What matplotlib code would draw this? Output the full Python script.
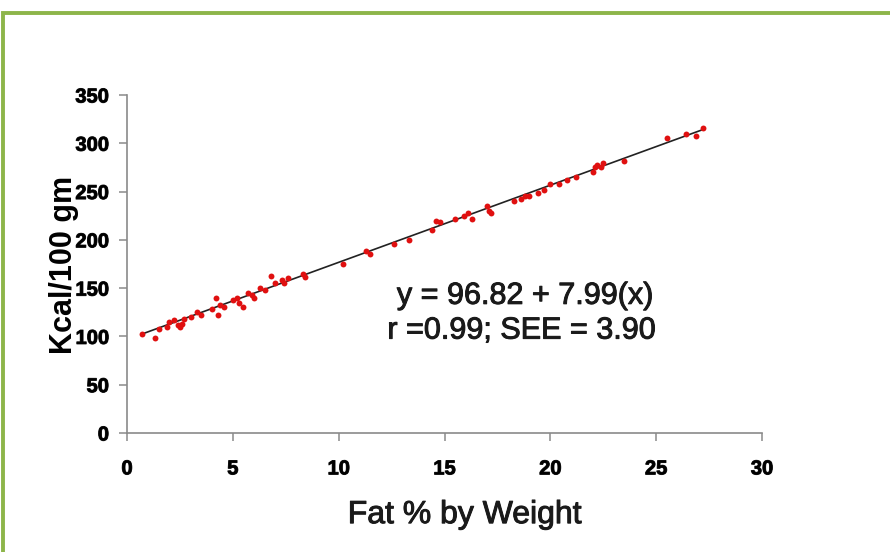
import numpy as np
import matplotlib.pyplot as plt
import matplotlib.patheffects as pe
from matplotlib.patches import Rectangle

# Fat % by weight vs Kcal/100 gm
fat_pct = [0.7, 1.3, 1.5, 1.9, 2.0, 2.2, 2.4, 2.5, 2.6, 2.7, 3.0, 3.3, 3.5,
           4.0, 4.2, 4.3, 4.4, 4.6, 5.0, 5.2, 5.3, 5.5, 5.7, 5.9, 6.0, 6.3,
           6.5, 6.8, 7.0, 7.3, 7.4, 7.6, 8.3, 8.4, 10.2, 11.3, 11.5, 12.6,
           13.3, 14.4, 14.6, 14.8, 15.5, 15.9, 16.1, 16.3, 17.0, 17.1, 17.2,
           18.3, 18.6, 18.8, 19.0, 19.4, 19.7, 20.0, 20.4, 20.8, 21.2, 22.0,
           22.1, 22.2, 22.4, 22.5, 23.5, 25.5, 26.4, 26.9, 27.2]
kcal = [102, 98, 108, 110, 115, 117, 112, 110, 113, 118, 120, 125, 122,
        128, 140, 122, 133, 130, 138, 140, 135, 130, 145, 143, 140, 150,
        148, 163, 155, 158, 155, 160, 165, 162, 175, 188, 185, 196,
        200, 210, 220, 218, 222, 225, 228, 222, 235, 230, 228,
        240, 242, 245, 245, 248, 252, 258, 258, 262, 265, 270,
        275, 278, 275, 280, 282, 305, 310, 308, 316]

intercept = 96.82
slope = 7.99
fit_x = [0.7, 27.2]

plt.rcParams['font.family'] = ['Liberation Sans', 'DejaVu Sans']

fig = plt.figure(figsize=(8.9, 5.52), dpi=100)
ax = fig.add_axes([0.1427, 0.2156, 0.7135, 0.6123])

# green frame round the figure
fig.patches.append(Rectangle((2.5 / 890, -0.1), 1.1, 1.1 - 13 / 552,
                             transform=fig.transFigure, fill=False,
                             edgecolor='#8db54a', linewidth=2.8))

fx = np.array(fit_x)
ax.plot(fx, intercept + slope * fx, color='#222222', linewidth=1.2, zorder=2)
ax.scatter(fat_pct, kcal, s=18, color='#e01010', zorder=3, linewidths=0)

ax.set_xlim(0, 30)
ax.set_ylim(0, 350)
ax.set_xticks(range(0, 31, 5))
ax.set_yticks(range(0, 351, 50))
for s in ['top', 'right']:
    ax.spines[s].set_visible(False)
for s in ['left', 'bottom']:
    ax.spines[s].set_color('#8a8a8a')
    ax.spines[s].set_linewidth(1.2)
ax.tick_params(direction='out', length=6, width=1.1, color='#8a8a8a',
               labelsize=14.5)
ax.tick_params(axis='x', pad=13)
ax.tick_params(axis='y', pad=7)
# slightly heavier text, like the blurry original
heavy = [pe.withStroke(linewidth=0.7, foreground='#1a1a1a')]
for lab in ax.get_xticklabels() + ax.get_yticklabels():
    lab.set_fontweight('bold')
    lab.set_path_effects(heavy)

ax.set_xlabel('Fat % by Weight', fontsize=23, color='#1a1a1a', path_effects=heavy)
ax.xaxis.label.set_va('center')
ax.xaxis.set_label_coords(0.532, -0.243)
ax.set_ylabel('Kcal/100 gm', fontsize=22, fontweight='bold')
ax.yaxis.label.set_va('center')
ax.yaxis.set_label_coords(-0.1, 0.497)

ax.text(12.75, 142, 'y = 96.82 + 7.99(x)', fontsize=22, va='center', ha='left',
        color='#1a1a1a', path_effects=heavy)
ax.text(12.3, 106, 'r =0.99; SEE = 3.90', fontsize=22, va='center', ha='left',
        color='#1a1a1a', path_effects=heavy)

fig.savefig('out.png', dpi=100)
